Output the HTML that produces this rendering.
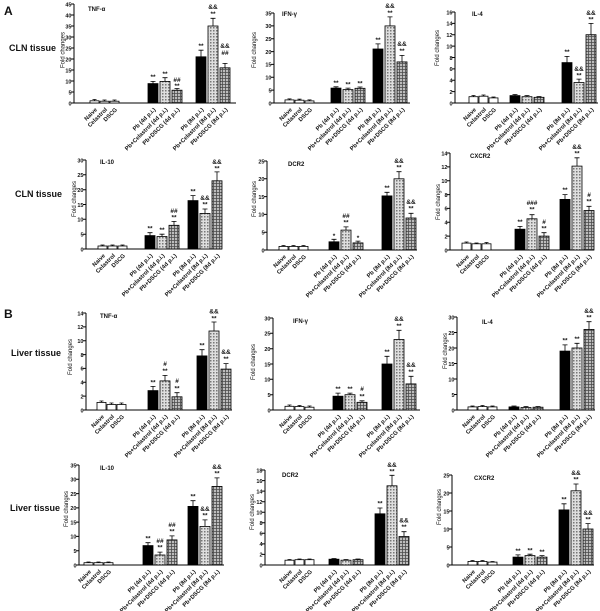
<!DOCTYPE html>
<html><head><meta charset="utf-8">
<style>
html,body{margin:0;padding:0;background:#fff;}
svg{display:block;}
text{font-family:"Liberation Sans",Arial,sans-serif;fill:#111;}
.t{font-size:5.5px;font-weight:bold;text-anchor:end;}
.xl{font-size:5.8px;font-weight:bold;text-anchor:end;}
.a{font-size:6.5px;font-weight:bold;text-anchor:middle;}
.ti{font-size:6px;font-weight:bold;}
.fc{font-size:6px;text-anchor:middle;}
.big{font-size:12px;font-weight:bold;}
.tis{font-size:9px;font-weight:bold;}
.w{fill:#fff;stroke:#000;stroke-width:.8}
.b{fill:#000;stroke:#000;stroke-width:.8}
.c{fill:url(#pc);stroke:#000;stroke-width:.8}
.d{fill:url(#pd);stroke:#000;stroke-width:.8}
.e{fill:none;stroke:#000;stroke-width:.8}
.ax{fill:none;stroke:#000;stroke-width:1}
</style></head>
<body>
<svg width="600" height="611" viewBox="0 0 600 611" xmlns="http://www.w3.org/2000/svg">
<defs>
<pattern id="pc" width="3" height="3" patternUnits="userSpaceOnUse"><rect width="3" height="3" fill="#dedede"/><rect width="1.5" height="1.5" fill="#777"/></pattern>
<pattern id="pd" width="3" height="3" patternUnits="userSpaceOnUse"><rect width="3" height="3" fill="#bcbcbc"/><path d="M0 0.4H3M0.4 0V3" stroke="#4a4a4a" stroke-width="0.8"/></pattern>
</defs>
<rect width="600" height="611" fill="#fff"/>

<text class="big" x="4" y="15">A</text>
<text class="tis" x="9" y="51">CLN tissue</text>
<text class="tis" x="15" y="197">CLN tissue</text>
<text class="big" x="4" y="318">B</text>
<text class="tis" x="11" y="356">Liver tissue</text>
<text class="tis" x="10" y="511">Liver tissue</text>

<!-- P1 TNF CLN -->
<path class="ax" d="M74,4V103H236M71,4H74M71,15H74M71,26H74M71,37H74M71,48H74M71,59H74M71,70H74M71,81H74M71,92H74M71,103H74"/>
<g transform="translate(2.5,0)"><text class="t" x="69" y="6.3">45</text><text class="t" x="69" y="17.3">40</text><text class="t" x="69" y="28.3">35</text><text class="t" x="69" y="39.3">30</text><text class="t" x="69" y="50.3">25</text><text class="t" x="69" y="61.3">20</text><text class="t" x="69" y="72.3">15</text><text class="t" x="69" y="83.3">10</text><text class="t" x="69" y="94.3">5</text><text class="t" x="69" y="105.3">0</text></g>
<text class="fc" transform="translate(64.5,50) rotate(-90)">Fold changes</text>
<text class="ti" x="88" y="11">TNF-α</text>
<rect class="w" x="90" y="100.8" width="9" height="2.2"/><rect class="w" x="100" y="101.2" width="9" height="1.8"/><rect class="w" x="110" y="101.2" width="9" height="1.8"/>
<rect class="b" x="148" y="83.6" width="10" height="19.4"/><rect class="c" x="160" y="81.4" width="10" height="21.6"/><rect class="d" x="172" y="90.2" width="10" height="12.8"/>
<rect class="b" x="196" y="56.8" width="10" height="46.2"/><rect class="c" x="208" y="26" width="10" height="77"/><rect class="d" x="220" y="67.8" width="10" height="35.2"/>
<path class="e" d="M94.5,100.8V99.5M92.5,99.5H96.5M104.5,101.2V100M102.5,100H106.5M114.5,101.2V100M112.5,100H116.5M153,83.6V81.4M150.5,81.4H155.5M165,81.4V77.7M162.5,77.7H167.5M177,90.2V88.5M174.5,88.5H179.5M201,56.8V50.2M198.5,50.2H203.5M213,26V18.3M210.5,18.3H215.5M225,67.8V63.4M222.5,63.4H227.5"/>
<text class="a" x="153" y="79">**</text><text class="a" x="165" y="76">**</text><text class="a" x="177" y="82">##</text><text class="a" x="177" y="88">**</text><text class="a" x="201" y="48">**</text><text class="a" x="213" y="9">&amp;&amp;</text><text class="a" x="213" y="16">**</text><text class="a" x="225" y="48">&amp;&amp;</text><text class="a" x="225" y="55">##</text>
<g transform="translate(0,110)"><text class="xl" transform="translate(97.5 0)rotate(-45)">Naive</text><text class="xl" transform="translate(107.5 0)rotate(-45)">Celastrol</text><text class="xl" transform="translate(117.5 0)rotate(-45)">DSCG</text><text class="xl" transform="translate(156 0)rotate(-45)">Pb (4d p.i.)</text><text class="xl" transform="translate(168 0)rotate(-45)">Pb+Celastrol (4d p.i.)</text><text class="xl" transform="translate(180 0)rotate(-45)">Pb+DSCG (4d p.i.)</text><text class="xl" transform="translate(204 0)rotate(-45)">Pb (8d p.i.)</text><text class="xl" transform="translate(216 0)rotate(-45)">Pb+Celastrol (8d p.i.)</text><text class="xl" transform="translate(228 0)rotate(-45)">Pb+DSCG (8d p.i.)</text></g>

<!-- P2 IFN CLN -->
<path class="ax" d="M274,13V103H410M271,103H274M271,90.1H274M271,77.3H274M271,64.4H274M271,51.6H274M271,38.7H274M271,25.9H274M271,13H274"/>
<g transform="translate(2.5,0)"><text class="t" x="269" y="105.3">0</text><text class="t" x="269" y="92.4">5</text><text class="t" x="269" y="79.6">10</text><text class="t" x="269" y="66.7">15</text><text class="t" x="269" y="53.9">20</text><text class="t" x="269" y="41">25</text><text class="t" x="269" y="28.2">30</text><text class="t" x="269" y="15.3">35</text></g>
<text class="fc" transform="translate(256,50) rotate(-90)">Fold changes</text>
<text class="ti" x="282" y="16">IFN-γ</text>
<rect class="w" x="285" y="99.9" width="9" height="3.1"/><rect class="w" x="295" y="100.2" width="9" height="2.8"/><rect class="w" x="305" y="100.9" width="9" height="2.1"/>
<rect class="b" x="331" y="88.1" width="10" height="14.9"/><rect class="c" x="343" y="89.6" width="10" height="13.4"/><rect class="d" x="355" y="88.3" width="10" height="14.7"/>
<rect class="b" x="373" y="49" width="10" height="54"/><rect class="c" x="385" y="25.9" width="10" height="77.1"/><rect class="d" x="397" y="61.9" width="10" height="41.1"/>
<path class="e" d="M289.5,99.9V98.9M287.5,98.9H291.5M299.5,100.2V99.2M297.5,99.2H301.5M309.5,100.9V99.9M307.5,99.9H311.5M336,88.1V86.8M333.5,86.8H338.5M348,89.6V88.1M345.5,88.1H350.5M360,88.3V87M357.5,87H362.5M378,49V43.9M375.5,43.9H380.5M390,25.9V16.9M387.5,16.9H392.5M402,61.9V55.4M399.5,55.4H404.5"/>
<text class="a" x="336" y="85">**</text><text class="a" x="348" y="86.5">**</text><text class="a" x="360" y="85.5">**</text><text class="a" x="378" y="42">**</text><text class="a" x="390" y="8">&amp;&amp;</text><text class="a" x="390" y="15">**</text><text class="a" x="402" y="46">&amp;&amp;</text><text class="a" x="402" y="53">**</text>
<g transform="translate(0,110)"><text class="xl" transform="translate(292.5 0)rotate(-45)">Naive</text><text class="xl" transform="translate(302.5 0)rotate(-45)">Celastrol</text><text class="xl" transform="translate(312.5 0)rotate(-45)">DSCG</text><text class="xl" transform="translate(339 0)rotate(-45)">Pb (4d p.i.)</text><text class="xl" transform="translate(351 0)rotate(-45)">Pb+Celastrol (4d p.i.)</text><text class="xl" transform="translate(363 0)rotate(-45)">Pb+DSCG (4d p.i.)</text><text class="xl" transform="translate(381 0)rotate(-45)">Pb (8d p.i.)</text><text class="xl" transform="translate(393 0)rotate(-45)">Pb+Celastrol (8d p.i.)</text><text class="xl" transform="translate(405 0)rotate(-45)">Pb+DSCG (8d p.i.)</text></g>

<!-- P3 IL-4 CLN -->
<path class="ax" d="M455,12V103H598M452,103H455M452,91.6H455M452,80.3H455M452,68.9H455M452,57.5H455M452,46.1H455M452,34.8H455M452,23.4H455M452,12H455"/>
<g transform="translate(2.5,0)"><text class="t" x="450" y="105.3">0</text><text class="t" x="450" y="93.9">2</text><text class="t" x="450" y="82.6">4</text><text class="t" x="450" y="71.2">6</text><text class="t" x="450" y="59.8">8</text><text class="t" x="450" y="48.4">10</text><text class="t" x="450" y="37.1">12</text><text class="t" x="450" y="25.7">14</text><text class="t" x="450" y="14.3">16</text></g>
<text class="fc" transform="translate(439,48) rotate(-90)">Fold changes</text>
<text class="ti" x="472" y="16">IL-4</text>
<rect class="w" x="469" y="96.7" width="9" height="6.3"/><rect class="w" x="479" y="96.2" width="9" height="6.8"/><rect class="w" x="489" y="97.9" width="9" height="5.1"/>
<rect class="b" x="510" y="95.6" width="10" height="7.4"/><rect class="c" x="522" y="96.7" width="10" height="6.3"/><rect class="d" x="534" y="97.3" width="10" height="5.7"/>
<rect class="b" x="562" y="62.6" width="10" height="40.4"/><rect class="c" x="574" y="82.5" width="10" height="20.5"/><rect class="d" x="586" y="34.7" width="10" height="68.3"/>
<path class="e" d="M473.5,96.7V95.5M471.5,95.5H475.5M483.5,96.2V95M481.5,95H485.5M493.5,97.9V97M491.5,97H495.5M515,95.6V94.5M512.5,94.5H517.5M527,96.7V95.5M524.5,95.5H529.5M539,97.3V96.5M536.5,96.5H541.5M567,62.6V56.4M564.5,56.4H569.5M579,82.5V79.1M576.5,79.1H581.5M591,34.7V23.4M588.5,23.4H593.5"/>
<text class="a" x="567" y="54">**</text><text class="a" x="579" y="71">&amp;&amp;</text><text class="a" x="579" y="77.5">**</text><text class="a" x="591" y="15">&amp;&amp;</text><text class="a" x="591" y="21.5">**</text>
<g transform="translate(0,110)"><text class="xl" transform="translate(476.5 0)rotate(-45)">Naive</text><text class="xl" transform="translate(486.5 0)rotate(-45)">Celastrol</text><text class="xl" transform="translate(496.5 0)rotate(-45)">DSCG</text><text class="xl" transform="translate(518 0)rotate(-45)">Pb (4d p.i.)</text><text class="xl" transform="translate(530 0)rotate(-45)">Pb+Celastrol (4d p.i.)</text><text class="xl" transform="translate(542 0)rotate(-45)">Pb+DSCG (4d p.i.)</text><text class="xl" transform="translate(570 0)rotate(-45)">Pb (8d p.i.)</text><text class="xl" transform="translate(582 0)rotate(-45)">Pb+Celastrol (8d p.i.)</text><text class="xl" transform="translate(594 0)rotate(-45)">Pb+DSCG (8d p.i.)</text></g>

<!-- P4 IL-10 CLN -->
<path class="ax" d="M86,160V249H222M83,249H86M83,234.2H86M83,219.3H86M83,204.5H86M83,189.7H86M83,174.8H86M83,160H86"/>
<g transform="translate(2.5,0)"><text class="t" x="81" y="251.3">0</text><text class="t" x="81" y="236.5">5</text><text class="t" x="81" y="221.6">10</text><text class="t" x="81" y="206.8">15</text><text class="t" x="81" y="192">20</text><text class="t" x="81" y="177.1">25</text><text class="t" x="81" y="162.3">30</text></g>
<text class="fc" transform="translate(76,199) rotate(-90)">Fold changes</text>
<text class="ti" x="100" y="164">IL-10</text>
<rect class="w" x="98" y="246" width="9" height="3"/><rect class="w" x="108" y="246" width="9" height="3"/><rect class="w" x="118" y="246" width="9" height="3"/>
<rect class="b" x="145" y="235.6" width="10" height="13.4"/><rect class="c" x="157" y="236.5" width="10" height="12.5"/><rect class="d" x="169" y="225.3" width="10" height="23.7"/>
<rect class="b" x="188" y="200.6" width="10" height="48.4"/><rect class="c" x="200" y="213.4" width="10" height="35.6"/><rect class="d" x="212" y="180.8" width="10" height="68.2"/>
<path class="e" d="M102.5,246V245M100.5,245H104.5M112.5,246V245M110.5,245H114.5M122.5,246V245M120.5,245H124.5M150,235.6V232.7M147.5,232.7H152.5M162,236.5V234.2M159.5,234.2H164.5M174,225.3V221.4M171.5,221.4H176.5M193,200.6V195.6M190.5,195.6H195.5M205,213.4V209M202.5,209H207.5M217,180.8V171.9M214.5,171.9H219.5"/>
<text class="a" x="150" y="230.5">**</text><text class="a" x="162" y="232">**</text><text class="a" x="174" y="213">##</text><text class="a" x="174" y="219.5">**</text><text class="a" x="193" y="193.5">**</text><text class="a" x="205" y="200">&amp;&amp;</text><text class="a" x="205" y="206.5">**</text><text class="a" x="217" y="164">&amp;&amp;</text><text class="a" x="217" y="170.5">**</text>
<g transform="translate(0,256)"><text class="xl" transform="translate(105.5 0)rotate(-45)">Naive</text><text class="xl" transform="translate(115.5 0)rotate(-45)">Celastrol</text><text class="xl" transform="translate(125.5 0)rotate(-45)">DSCG</text><text class="xl" transform="translate(153 0)rotate(-45)">Pb (4d p.i.)</text><text class="xl" transform="translate(165 0)rotate(-45)">Pb+Celastrol (4d p.i.)</text><text class="xl" transform="translate(177 0)rotate(-45)">Pb+DSCG (4d p.i.)</text><text class="xl" transform="translate(196 0)rotate(-45)">Pb (8d p.i.)</text><text class="xl" transform="translate(208 0)rotate(-45)">Pb+Celastrol (8d p.i.)</text><text class="xl" transform="translate(220 0)rotate(-45)">Pb+DSCG (8d p.i.)</text></g>

<!-- P5 DCR2 CLN -->
<path class="ax" d="M267,161V250H417M264,250H267M264,232.2H267M264,214.4H267M264,196.6H267M264,178.8H267M264,161H267"/>
<g transform="translate(2.5,0)"><text class="t" x="262" y="252.3">0</text><text class="t" x="262" y="234.5">5</text><text class="t" x="262" y="216.7">10</text><text class="t" x="262" y="198.9">15</text><text class="t" x="262" y="181.1">20</text><text class="t" x="262" y="163.3">25</text></g>
<text class="fc" transform="translate(256,199) rotate(-90)">Fold changes</text>
<text class="ti" x="288" y="166">DCR2</text>
<rect class="w" x="279" y="246.4" width="9" height="3.6"/><rect class="w" x="289" y="246.4" width="9" height="3.6"/><rect class="w" x="299" y="246.4" width="9" height="3.6"/>
<rect class="b" x="329" y="241.8" width="10" height="8.2"/><rect class="c" x="341" y="230.1" width="10" height="19.9"/><rect class="d" x="353" y="242.9" width="10" height="7.1"/>
<rect class="b" x="382" y="195.9" width="10" height="54.1"/><rect class="c" x="394" y="178.8" width="10" height="71.2"/><rect class="d" x="406" y="218" width="10" height="32"/>
<path class="e" d="M283.5,246.4V245.5M281.5,245.5H285.5M293.5,246.4V245.5M291.5,245.5H295.5M303.5,246.4V245.5M301.5,245.5H305.5M334,241.8V239.3M331.5,239.3H336.5M346,230.1V226.9M343.5,226.9H348.5M358,242.9V241.1M355.5,241.1H360.5M387,195.9V192.3M384.5,192.3H389.5M399,178.8V171.7M396.5,171.7H401.5M411,218V213.3M408.5,213.3H413.5"/>
<text class="a" x="334" y="238">*</text><text class="a" x="346" y="218">##</text><text class="a" x="346" y="224.5">**</text><text class="a" x="358" y="240">*</text><text class="a" x="387" y="190">**</text><text class="a" x="399" y="163">&amp;&amp;</text><text class="a" x="399" y="169.5">**</text><text class="a" x="411" y="204">&amp;&amp;</text><text class="a" x="411" y="210.5">**</text>
<g transform="translate(0,257)"><text class="xl" transform="translate(286.5 0)rotate(-45)">Naive</text><text class="xl" transform="translate(296.5 0)rotate(-45)">Celastrol</text><text class="xl" transform="translate(306.5 0)rotate(-45)">DSCG</text><text class="xl" transform="translate(337 0)rotate(-45)">Pb (4d p.i.)</text><text class="xl" transform="translate(349 0)rotate(-45)">Pb+Celastrol (4d p.i.)</text><text class="xl" transform="translate(361 0)rotate(-45)">Pb+DSCG (4d p.i.)</text><text class="xl" transform="translate(390 0)rotate(-45)">Pb (8d p.i.)</text><text class="xl" transform="translate(402 0)rotate(-45)">Pb+Celastrol (8d p.i.)</text><text class="xl" transform="translate(414 0)rotate(-45)">Pb+DSCG (8d p.i.)</text></g>

<!-- P6 CXCR2 CLN -->
<path class="ax" d="M450,153V250H594M447,250H450M447,236.1H450M447,222.3H450M447,208.4H450M447,194.6H450M447,180.7H450M447,166.9H450M447,153H450"/>
<g transform="translate(2.5,0)"><text class="t" x="445" y="252.3">0</text><text class="t" x="445" y="238.4">2</text><text class="t" x="445" y="224.6">4</text><text class="t" x="445" y="210.7">6</text><text class="t" x="445" y="196.9">8</text><text class="t" x="445" y="183">10</text><text class="t" x="445" y="169.2">12</text><text class="t" x="445" y="155.3">14</text></g>
<text class="fc" transform="translate(440,202) rotate(-90)">Fold changes</text>
<text class="ti" x="470" y="158">CXCR2</text>
<rect class="w" x="462" y="243.1" width="9" height="6.9"/><rect class="w" x="472" y="243.8" width="9" height="6.2"/><rect class="w" x="482" y="243.8" width="9" height="6.2"/>
<rect class="b" x="515" y="229.2" width="10" height="20.8"/><rect class="c" x="527" y="218.8" width="10" height="31.2"/><rect class="d" x="539" y="236.1" width="10" height="13.9"/>
<rect class="b" x="560" y="199.4" width="10" height="50.6"/><rect class="c" x="572" y="166.1" width="10" height="83.9"/><rect class="d" x="584" y="210.5" width="10" height="39.5"/>
<path class="e" d="M466.5,243.1V242M464.5,242H468.5M476.5,243.8V243M474.5,243H478.5M486.5,243.8V242.5M484.5,242.5H488.5M520,229.2V226.4M517.5,226.4H522.5M532,218.8V214.7M529.5,214.7H534.5M544,236.1V232.7M541.5,232.7H546.5M565,199.4V194.6M562.5,194.6H567.5M577,166.1V157.8M574.5,157.8H579.5M589,210.5V206.3M586.5,206.3H591.5"/>
<text class="a" x="520" y="224">**</text><text class="a" x="532" y="205">###</text><text class="a" x="532" y="211.5">**</text><text class="a" x="544" y="224">#</text><text class="a" x="544" y="230.5">**</text><text class="a" x="565" y="192">**</text><text class="a" x="577" y="149">&amp;&amp;</text><text class="a" x="577" y="155.5">**</text><text class="a" x="589" y="197">#</text><text class="a" x="589" y="203.5">**</text>
<g transform="translate(0,257)"><text class="xl" transform="translate(469.5 0)rotate(-45)">Naive</text><text class="xl" transform="translate(479.5 0)rotate(-45)">Celastrol</text><text class="xl" transform="translate(489.5 0)rotate(-45)">DSCG</text><text class="xl" transform="translate(523 0)rotate(-45)">Pb (4d p.i.)</text><text class="xl" transform="translate(535 0)rotate(-45)">Pb+Celastrol (4d p.i.)</text><text class="xl" transform="translate(547 0)rotate(-45)">Pb+DSCG (4d p.i.)</text><text class="xl" transform="translate(568 0)rotate(-45)">Pb (8d p.i.)</text><text class="xl" transform="translate(580 0)rotate(-45)">Pb+Celastrol (8d p.i.)</text><text class="xl" transform="translate(592 0)rotate(-45)">Pb+DSCG (8d p.i.)</text></g>

<!-- P7 TNF Liver -->
<path class="ax" d="M86,313V410H232M83,410H86M83,396.1H86M83,382.3H86M83,368.4H86M83,354.6H86M83,340.7H86M83,326.9H86M83,313H86"/>
<g transform="translate(2.5,0)"><text class="t" x="81" y="412.3">0</text><text class="t" x="81" y="398.4">2</text><text class="t" x="81" y="384.6">4</text><text class="t" x="81" y="370.7">6</text><text class="t" x="81" y="356.9">8</text><text class="t" x="81" y="343">10</text><text class="t" x="81" y="329.2">12</text><text class="t" x="81" y="315.3">14</text></g>
<text class="fc" transform="translate(72,357) rotate(-90)">Fold changes</text>
<text class="ti" x="100" y="318">TNF-α</text>
<rect class="w" x="97" y="402.4" width="9" height="7.6"/><rect class="w" x="107" y="404.5" width="9" height="5.5"/><rect class="w" x="117" y="404.5" width="9" height="5.5"/>
<rect class="b" x="148" y="390.6" width="10" height="19.4"/><rect class="c" x="160" y="380.9" width="10" height="29.1"/><rect class="d" x="172" y="396.8" width="10" height="13.2"/>
<rect class="b" x="197" y="355.9" width="10" height="54.1"/><rect class="c" x="209" y="331" width="10" height="79"/><rect class="d" x="221" y="369.1" width="10" height="40.9"/>
<path class="e" d="M101.5,402.4V401M99.5,401H103.5M111.5,404.5V403M109.5,403H113.5M121.5,404.5V403M119.5,403H123.5M153,390.6V386.4M150.5,386.4H155.5M165,380.9V375.4M162.5,375.4H167.5M177,396.8V392.7M174.5,392.7H179.5M202,355.9V349.7M199.5,349.7H204.5M214,331V322M211.5,322H216.5M226,369.1V363.6M223.5,363.6H228.5"/>
<text class="a" x="153" y="384.5">**</text><text class="a" x="165" y="366">#</text><text class="a" x="165" y="373">**</text><text class="a" x="177" y="383">#</text><text class="a" x="177" y="390.5">**</text><text class="a" x="202" y="347.5">**</text><text class="a" x="214" y="313.5">&amp;&amp;</text><text class="a" x="214" y="320.5">**</text><text class="a" x="226" y="354">&amp;&amp;</text><text class="a" x="226" y="361">**</text>
<g transform="translate(0,417)"><text class="xl" transform="translate(104.5 0)rotate(-45)">Naive</text><text class="xl" transform="translate(114.5 0)rotate(-45)">Celastrol</text><text class="xl" transform="translate(124.5 0)rotate(-45)">DSCG</text><text class="xl" transform="translate(156 0)rotate(-45)">Pb (4d p.i.)</text><text class="xl" transform="translate(168 0)rotate(-45)">Pb+Celastrol (4d p.i.)</text><text class="xl" transform="translate(180 0)rotate(-45)">Pb+DSCG (4d p.i.)</text><text class="xl" transform="translate(205 0)rotate(-45)">Pb (8d p.i.)</text><text class="xl" transform="translate(217 0)rotate(-45)">Pb+Celastrol (8d p.i.)</text><text class="xl" transform="translate(229 0)rotate(-45)">Pb+DSCG (8d p.i.)</text></g>

<!-- P8 IFN Liver -->
<path class="ax" d="M273,318V410H420M270,410H273M270,394.7H273M270,379.3H273M270,364H273M270,348.7H273M270,333.3H273M270,318H273"/>
<g transform="translate(2.5,0)"><text class="t" x="268" y="412.3">0</text><text class="t" x="268" y="397">5</text><text class="t" x="268" y="381.6">10</text><text class="t" x="268" y="366.3">15</text><text class="t" x="268" y="351">20</text><text class="t" x="268" y="335.6">25</text><text class="t" x="268" y="320.3">30</text></g>
<text class="fc" transform="translate(255,362) rotate(-90)">Fold changes</text>
<text class="ti" x="293" y="323">IFN-γ</text>
<rect class="w" x="285" y="406.3" width="9" height="3.7"/><rect class="w" x="295" y="406.6" width="9" height="3.4"/><rect class="w" x="305" y="407.2" width="9" height="2.8"/>
<rect class="b" x="333" y="396.2" width="10" height="13.8"/><rect class="c" x="345" y="394.7" width="10" height="15.3"/><rect class="d" x="357" y="402.3" width="10" height="7.7"/>
<rect class="b" x="382" y="364" width="10" height="46"/><rect class="c" x="394" y="339.5" width="10" height="70.5"/><rect class="d" x="406" y="383.9" width="10" height="26.1"/>
<path class="e" d="M289.5,406.3V405M287.5,405H291.5M299.5,406.6V405.5M297.5,405.5H301.5M309.5,407.2V406M307.5,406H311.5M338,396.2V393.1M335.5,393.1H340.5M350,394.7V393.1M347.5,393.1H352.5M362,402.3V400.8M359.5,400.8H364.5M387,364V356.3M384.5,356.3H389.5M399,339.5V330.3M396.5,330.3H401.5M411,383.9V376.3M408.5,376.3H413.5"/>
<text class="a" x="338" y="391">**</text><text class="a" x="350" y="391">**</text><text class="a" x="362" y="391">#</text><text class="a" x="362" y="398.5">**</text><text class="a" x="387" y="354">**</text><text class="a" x="399" y="321">&amp;&amp;</text><text class="a" x="399" y="328">**</text><text class="a" x="411" y="367">&amp;&amp;</text><text class="a" x="411" y="374">**</text>
<g transform="translate(0,417)"><text class="xl" transform="translate(292.5 0)rotate(-45)">Naive</text><text class="xl" transform="translate(302.5 0)rotate(-45)">Celastrol</text><text class="xl" transform="translate(312.5 0)rotate(-45)">DSCG</text><text class="xl" transform="translate(341 0)rotate(-45)">Pb (4d p.i.)</text><text class="xl" transform="translate(353 0)rotate(-45)">Pb+Celastrol (4d p.i.)</text><text class="xl" transform="translate(365 0)rotate(-45)">Pb+DSCG (4d p.i.)</text><text class="xl" transform="translate(390 0)rotate(-45)">Pb (8d p.i.)</text><text class="xl" transform="translate(402 0)rotate(-45)">Pb+Celastrol (8d p.i.)</text><text class="xl" transform="translate(414 0)rotate(-45)">Pb+DSCG (8d p.i.)</text></g>

<!-- P9 IL-4 Liver -->
<path class="ax" d="M457,317V410H595M454,410H457M454,394.5H457M454,379H457M454,363.5H457M454,348H457M454,332.5H457M454,317H457"/>
<g transform="translate(2.5,0)"><text class="t" x="452" y="412.3">0</text><text class="t" x="452" y="396.8">5</text><text class="t" x="452" y="381.3">10</text><text class="t" x="452" y="365.8">15</text><text class="t" x="452" y="350.3">20</text><text class="t" x="452" y="334.8">25</text><text class="t" x="452" y="319.3">30</text></g>
<text class="fc" transform="translate(447,351) rotate(-90)">Fold changes</text>
<text class="ti" x="482" y="324">IL-4</text>
<rect class="w" x="468" y="406.9" width="9" height="3.1"/><rect class="w" x="478" y="406.6" width="9" height="3.4"/><rect class="w" x="488" y="406.9" width="9" height="3.1"/>
<rect class="b" x="509" y="406.9" width="10" height="3.1"/><rect class="c" x="521" y="407.5" width="10" height="2.5"/><rect class="d" x="533" y="407.2" width="10" height="2.8"/>
<rect class="b" x="560" y="351.1" width="10" height="58.9"/><rect class="c" x="572" y="348" width="10" height="62"/><rect class="d" x="584" y="329.4" width="10" height="80.6"/>
<path class="e" d="M472.5,406.9V406M470.5,406H474.5M482.5,406.6V405.5M480.5,405.5H484.5M492.5,406.9V406M490.5,406H494.5M514,406.9V406M511.5,406H516.5M526,407.5V406.5M523.5,406.5H528.5M538,407.2V406.5M535.5,406.5H540.5M565,351.1V344.9M562.5,344.9H567.5M577,348V343.3M574.5,343.3H579.5M589,329.4V321.7M586.5,321.7H591.5"/>
<text class="a" x="565" y="342.5">**</text><text class="a" x="577" y="341">**</text><text class="a" x="589" y="313">&amp;&amp;</text><text class="a" x="589" y="319.5">**</text>
<g transform="translate(0,417)"><text class="xl" transform="translate(475.5 0)rotate(-45)">Naive</text><text class="xl" transform="translate(485.5 0)rotate(-45)">Celastrol</text><text class="xl" transform="translate(495.5 0)rotate(-45)">DSCG</text><text class="xl" transform="translate(517 0)rotate(-45)">Pb (4d p.i.)</text><text class="xl" transform="translate(529 0)rotate(-45)">Pb+Celastrol (4d p.i.)</text><text class="xl" transform="translate(541 0)rotate(-45)">Pb+DSCG (4d p.i.)</text><text class="xl" transform="translate(568 0)rotate(-45)">Pb (8d p.i.)</text><text class="xl" transform="translate(580 0)rotate(-45)">Pb+Celastrol (8d p.i.)</text><text class="xl" transform="translate(592 0)rotate(-45)">Pb+DSCG (8d p.i.)</text></g>

<!-- P10 IL-10 Liver -->
<path class="ax" d="M79,465V565H224M76,565H79M76,550.7H79M76,536.4H79M76,522.1H79M76,507.9H79M76,493.6H79M76,479.3H79M76,465H79"/>
<g transform="translate(2.5,0)"><text class="t" x="74" y="567.3">0</text><text class="t" x="74" y="553">5</text><text class="t" x="74" y="538.7">10</text><text class="t" x="74" y="524.4">15</text><text class="t" x="74" y="510.2">20</text><text class="t" x="74" y="495.9">25</text><text class="t" x="74" y="481.6">30</text><text class="t" x="74" y="467.3">35</text></g>
<text class="fc" transform="translate(68,509) rotate(-90)">Fold changes</text>
<text class="ti" x="100" y="470">IL-10</text>
<rect class="w" x="84" y="562.7" width="9" height="2.3"/><rect class="w" x="94" y="562.7" width="9" height="2.3"/><rect class="w" x="104" y="562.7" width="9" height="2.3"/>
<rect class="b" x="143" y="545.6" width="10" height="19.4"/><rect class="c" x="155" y="555" width="10" height="10"/><rect class="d" x="167" y="539.9" width="10" height="25.1"/>
<rect class="b" x="188" y="506.4" width="10" height="58.6"/><rect class="c" x="200" y="526.4" width="10" height="38.6"/><rect class="d" x="212" y="486.4" width="10" height="78.6"/>
<path class="e" d="M88.5,562.7V562M86.5,562H90.5M98.5,562.7V562M96.5,562H100.5M108.5,562.7V562M106.5,562H110.5M148,545.6V542.7M145.5,542.7H150.5M160,555V552.1M157.5,552.1H162.5M172,539.9V535.9M169.5,535.9H174.5M193,506.4V500.7M190.5,500.7H195.5M205,526.4V519.9M202.5,519.9H207.5M217,486.4V477.9M214.5,477.9H219.5"/>
<text class="a" x="148" y="540.5">**</text><text class="a" x="160" y="543">##</text><text class="a" x="160" y="549.5">**</text><text class="a" x="172" y="527">##</text><text class="a" x="172" y="533.5">**</text><text class="a" x="193" y="498.5">**</text><text class="a" x="205" y="511">&amp;&amp;</text><text class="a" x="205" y="517.5">**</text><text class="a" x="217" y="469">&amp;&amp;</text><text class="a" x="217" y="475.5">**</text>
<g transform="translate(0,572)"><text class="xl" transform="translate(91.5 0)rotate(-45)">Naive</text><text class="xl" transform="translate(101.5 0)rotate(-45)">Celastrol</text><text class="xl" transform="translate(111.5 0)rotate(-45)">DSCG</text><text class="xl" transform="translate(151 0)rotate(-45)">Pb (4d p.i.)</text><text class="xl" transform="translate(163 0)rotate(-45)">Pb+Celastrol (4d p.i.)</text><text class="xl" transform="translate(175 0)rotate(-45)">Pb+DSCG (4d p.i.)</text><text class="xl" transform="translate(196 0)rotate(-45)">Pb (8d p.i.)</text><text class="xl" transform="translate(208 0)rotate(-45)">Pb+Celastrol (8d p.i.)</text><text class="xl" transform="translate(220 0)rotate(-45)">Pb+DSCG (8d p.i.)</text></g>

<!-- P11 DCR2 Liver -->
<path class="ax" d="M265,470V565H409M262,565H265M262,554.4H265M262,543.9H265M262,533.3H265M262,522.8H265M262,512.2H265M262,501.7H265M262,491.1H265M262,480.6H265M262,470H265"/>
<g transform="translate(2.5,0)"><text class="t" x="260" y="567.3">0</text><text class="t" x="260" y="556.7">2</text><text class="t" x="260" y="546.2">4</text><text class="t" x="260" y="535.6">6</text><text class="t" x="260" y="525.1">8</text><text class="t" x="260" y="514.5">10</text><text class="t" x="260" y="504">12</text><text class="t" x="260" y="493.4">14</text><text class="t" x="260" y="482.9">16</text><text class="t" x="260" y="472.3">18</text></g>
<text class="fc" transform="translate(254,512) rotate(-90)">Fold changes</text>
<text class="ti" x="282" y="477">DCR2</text>
<rect class="w" x="285" y="560.2" width="9" height="4.8"/><rect class="w" x="295" y="559.7" width="9" height="5.3"/><rect class="w" x="305" y="559.7" width="9" height="5.3"/>
<rect class="b" x="329" y="559.2" width="10" height="5.8"/><rect class="c" x="341" y="560.2" width="10" height="4.8"/><rect class="d" x="353" y="559.7" width="10" height="5.3"/>
<rect class="b" x="375" y="513.8" width="10" height="51.2"/><rect class="c" x="387" y="485.8" width="10" height="79.2"/><rect class="d" x="399" y="536.5" width="10" height="28.5"/>
<path class="e" d="M289.5,560.2V559.5M287.5,559.5H291.5M299.5,559.7V559M297.5,559H301.5M309.5,559.7V559M307.5,559H311.5M334,559.2V558.5M331.5,558.5H336.5M346,560.2V559.5M343.5,559.5H348.5M358,559.7V559M355.5,559H360.5M380,513.8V508M377.5,508H382.5M392,485.8V475.3M389.5,475.3H394.5M404,536.5V531.7M401.5,531.7H406.5"/>
<text class="a" x="380" y="505.5">**</text><text class="a" x="392" y="467">&amp;&amp;</text><text class="a" x="392" y="473.5">**</text><text class="a" x="404" y="522.5">&amp;&amp;</text><text class="a" x="404" y="529">**</text>
<g transform="translate(0,572)"><text class="xl" transform="translate(292.5 0)rotate(-45)">Naive</text><text class="xl" transform="translate(302.5 0)rotate(-45)">Celastrol</text><text class="xl" transform="translate(312.5 0)rotate(-45)">DSCG</text><text class="xl" transform="translate(337 0)rotate(-45)">Pb (4d p.i.)</text><text class="xl" transform="translate(349 0)rotate(-45)">Pb+Celastrol (4d p.i.)</text><text class="xl" transform="translate(361 0)rotate(-45)">Pb+DSCG (4d p.i.)</text><text class="xl" transform="translate(383 0)rotate(-45)">Pb (8d p.i.)</text><text class="xl" transform="translate(395 0)rotate(-45)">Pb+Celastrol (8d p.i.)</text><text class="xl" transform="translate(407 0)rotate(-45)">Pb+DSCG (8d p.i.)</text></g>

<!-- P12 CXCR2 Liver -->
<path class="ax" d="M452,475V565H594M449,565H452M449,547H452M449,529H452M449,511H452M449,493H452M449,475H452"/>
<g transform="translate(2.5,0)"><text class="t" x="447" y="567.3">0</text><text class="t" x="447" y="549.3">5</text><text class="t" x="447" y="531.3">10</text><text class="t" x="447" y="513.3">15</text><text class="t" x="447" y="495.3">20</text><text class="t" x="447" y="477.3">25</text></g>
<text class="fc" transform="translate(441,507) rotate(-90)">Fold changes</text>
<text class="ti" x="474" y="480">CXCR2</text>
<rect class="w" x="468" y="561.4" width="9" height="3.6"/><rect class="w" x="478" y="561.4" width="9" height="3.6"/><rect class="w" x="488" y="562.1" width="9" height="2.9"/>
<rect class="b" x="513" y="557.1" width="10" height="7.9"/><rect class="c" x="525" y="555.6" width="10" height="9.4"/><rect class="d" x="537" y="557.1" width="10" height="7.9"/>
<rect class="b" x="559" y="509.9" width="10" height="55.1"/><rect class="c" x="571" y="490.8" width="10" height="74.2"/><rect class="d" x="583" y="529" width="10" height="36"/>
<path class="e" d="M472.5,561.4V560.5M470.5,560.5H474.5M482.5,561.4V560.5M480.5,560.5H484.5M492.5,562.1V561.5M490.5,561.5H494.5M518,557.1V554.9M515.5,554.9H520.5M530,555.6V554.2M527.5,554.2H532.5M542,557.1V555.6M539.5,555.6H544.5M564,509.9V503.8M561.5,503.8H566.5M576,490.8V484M573.5,484H578.5M588,529V523.6M585.5,523.6H590.5"/>
<text class="a" x="518" y="553">**</text><text class="a" x="530" y="552.5">**</text><text class="a" x="542" y="554">**</text><text class="a" x="564" y="501.5">**</text><text class="a" x="576" y="475">&amp;&amp;</text><text class="a" x="576" y="481.5">**</text><text class="a" x="588" y="515">&amp;&amp;</text><text class="a" x="588" y="521.5">**</text>
<g transform="translate(0,572)"><text class="xl" transform="translate(475.5 0)rotate(-45)">Naive</text><text class="xl" transform="translate(485.5 0)rotate(-45)">Celastrol</text><text class="xl" transform="translate(495.5 0)rotate(-45)">DSCG</text><text class="xl" transform="translate(521 0)rotate(-45)">Pb (4d p.i.)</text><text class="xl" transform="translate(533 0)rotate(-45)">Pb+Celastrol (4d p.i.)</text><text class="xl" transform="translate(545 0)rotate(-45)">Pb+DSCG (4d p.i.)</text><text class="xl" transform="translate(567 0)rotate(-45)">Pb (8d p.i.)</text><text class="xl" transform="translate(579 0)rotate(-45)">Pb+Celastrol (8d p.i.)</text><text class="xl" transform="translate(591 0)rotate(-45)">Pb+DSCG (8d p.i.)</text></g>
</svg>
</body></html>
